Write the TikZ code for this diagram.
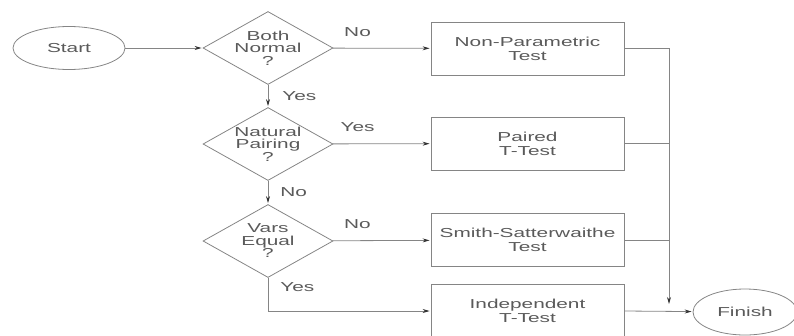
\documentclass[tikz,border=0pt]{standalone}
\usepackage{fontspec}
\newfontfamily\chartfont[FakeStretch=1.6]{Liberation Sans}
\usepackage{tikz}
\usetikzlibrary{shapes, arrows, positioning, shapes.geometric, arrows.meta}

\definecolor{linegray}{HTML}{858585}
\definecolor{textgray}{HTML}{5A5A5A}
\definecolor{tipgray}{HTML}{333333}

\begin{document}
\begin{tikzpicture}[x=1pt, y=-1pt,
        every node/.style={font=\chartfont\fontsize{13}{14}\selectfont, text=textgray},
        terminal/.style={ellipse, draw=linegray, thick, inner sep=0pt},
        decision/.style={diamond, draw=linegray, thick, inner sep=0pt, shape aspect=1.8,
            minimum width=130pt, minimum height=73pt, align=center,
            font=\chartfont\fontsize{13}{12.5}\selectfont},
        testbox/.style={rectangle, draw=linegray, thick, minimum width=193pt, minimum height=53pt, align=center},
        flow/.style={draw=linegray, thick, -{Stealth[length=7pt, width=4pt, color=tipgray]}, shorten >=1pt},
        joinline/.style={draw=linegray, thick},
        answer/.style={inner sep=0pt}
    ]
        \useasboundingbox (0,0) rectangle (794,335);

        \node[terminal, minimum width=112pt, minimum height=43pt] (start) at (69,48) {Start};
        \node[decision] (normal) at (268,48) {Both\\Normal\\?};
        \node[decision] (pairing) at (268,144) {Natural\\Pairing\\?};
        \node[decision] (vars) at (268,241) {Vars\\Equal\\?};

        \node[testbox] (nonpar) at (527.5,48.5) {Non-Parametric\\Test};
        \node[testbox] (paired) at (527.5,143.5) {Paired\\T-Test};
        \node[testbox] (smith) at (527.5,240) {Smith-Satterwaithe\\Test};
        \node[testbox] (indep) at (527.5,311) {Independent\\T-Test};

        \node[terminal, minimum width=104pt, minimum height=46pt] (finish) at (745,312) {Finish};

        \coordinate (collect) at (669,48.5);
        \coordinate (collectend) at (669,305);

        \draw[flow] (start) -- (normal);
        \draw[flow] (normal) -- node[answer, near start, above=11pt] {No} (nonpar);
        \draw[flow] (normal) -- node[answer, midway, right=14pt] {Yes} (pairing);
        \draw[flow] (pairing) -- node[answer, near start, above=12pt] {Yes} (paired);
        \draw[flow] (pairing) -- node[answer, midway, right=12pt] {No} (vars);
        \draw[flow] (vars) -- node[answer, near start, above=12pt] {No} (smith);
        \draw[flow] (vars.south) |- node[answer, pos=0.14, right=12pt] {Yes} (indep.west);

        \draw[flow] (nonpar.east) -- (collect) -- (collectend);
        \draw[joinline] (paired.east) -- (paired.east -| collect);
        \draw[joinline] (smith.east) -- (smith.east -| collect);
        \draw[flow] (indep.east) -- (finish);
    \end{tikzpicture}
\end{document}
